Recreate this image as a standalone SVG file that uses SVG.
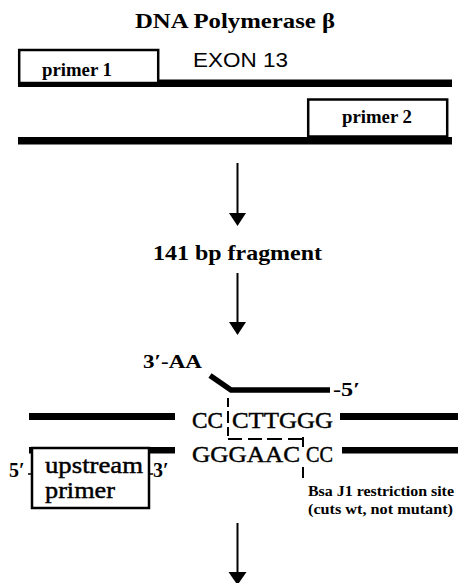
<svg xmlns="http://www.w3.org/2000/svg" width="459" height="583" viewBox="0 0 459 583">
<style>
.serif{font-family:"Liberation Serif","Times New Roman",serif;fill:#000}
.b{font-weight:bold}
.m{stroke:#000;stroke-width:0.45}
.sans{font-family:"Liberation Sans",Arial,sans-serif;fill:#000}
.box{fill:#fff;stroke:#000;stroke-width:2.5}
.dash{stroke:#000;stroke-width:2;fill:none}
</style>
<rect width="459" height="583" fill="#fff"/>
<g id="title"><text class="serif b" x="135" y="28" font-size="21" textLength="200" lengthAdjust="spacingAndGlyphs">DNA Polymerase β</text></g>
<g id="exon"><text class="sans" x="193" y="67" font-size="21" textLength="95" lengthAdjust="spacingAndGlyphs">EXON 13</text></g>
<g id="strand1"><rect x="18" y="79.5" width="434" height="7.5" fill="#000"/></g>
<g id="primer1"><rect class="box" x="19.2" y="50" width="139" height="33"/><text class="serif b" x="42" y="76" font-size="19" textLength="70" lengthAdjust="spacingAndGlyphs">primer 1</text></g>
<g id="strand2"><rect x="18" y="137" width="434" height="7.5" fill="#000"/></g>
<g id="primer2"><rect class="box" x="308.2" y="99.5" width="139" height="37"/><text class="serif b" x="342" y="123" font-size="19" textLength="70" lengthAdjust="spacingAndGlyphs">primer 2</text></g>
<g id="connectors">
<line x1="237.5" y1="163" x2="237.5" y2="215" stroke="#000" stroke-width="2"/>
<polygon points="229,213 246,213 237.5,226" fill="#000"/>
<line x1="237.5" y1="273" x2="237.5" y2="324" stroke="#000" stroke-width="2"/>
<polygon points="229,322 246,322 237.5,335" fill="#000"/>
<line x1="237.5" y1="523" x2="237.5" y2="574" stroke="#000" stroke-width="2"/>
<polygon points="228.5,572 246.5,572 237.5,585" fill="#000"/>
</g>
<g id="fragment"><text class="serif b" x="153" y="260" font-size="21" textLength="169" lengthAdjust="spacingAndGlyphs">141 bp fragment</text></g>
<g id="mutant-primer">
<text class="serif b" x="143" y="368" font-size="19" textLength="59" lengthAdjust="spacingAndGlyphs">3′-AA</text>
<polyline points="210,375.5 231,390 330,390" fill="none" stroke="#000" stroke-width="5.5"/>
<text class="serif b" x="333" y="396" font-size="19" textLength="27" lengthAdjust="spacingAndGlyphs">-5′</text>
</g>
<g id="top-strand">
<rect x="29" y="413" width="146" height="7" fill="#000"/>
<rect x="340" y="413" width="118" height="7" fill="#000"/>
<text class="serif m" x="192" y="428" font-size="24" textLength="31" lengthAdjust="spacingAndGlyphs">CC</text>
<text class="serif m" x="232" y="428" font-size="24" textLength="101" lengthAdjust="spacingAndGlyphs">CTTGGG</text>
</g>
<g id="bottom-strand">
<rect x="29" y="447" width="146" height="6.5" fill="#000"/>
<rect x="342" y="447" width="116" height="6.5" fill="#000"/>
<text class="serif m" x="192" y="462" font-size="24" textLength="108" lengthAdjust="spacingAndGlyphs">GGGAAC</text>
<text class="serif m" x="306" y="462" font-size="24" textLength="27" lengthAdjust="spacingAndGlyphs">CC</text>
</g>
<g id="restriction-site">
<path class="dash" d="M228,398V407M228,411V423M228,427V436M228,439H242M248,439H262M267,439H282M288,439H303M303,437V447M303,467V478"/>
<text class="serif b" x="308" y="496" font-size="14" textLength="146" lengthAdjust="spacingAndGlyphs">Bsa J1 restriction site</text>
<text class="serif b" x="308" y="514" font-size="14" textLength="145" lengthAdjust="spacingAndGlyphs">(cuts wt, not mutant)</text>
</g>
<g id="upstream-primer">
<rect class="box" x="32" y="448" width="117" height="60"/>
<text class="serif m" x="45" y="473" font-size="23" textLength="98" lengthAdjust="spacingAndGlyphs">upstream</text>
<text class="serif m" x="45" y="498" font-size="23" textLength="70" lengthAdjust="spacingAndGlyphs">primer</text>
<text class="serif b" x="9" y="477" font-size="20">5′</text>
<line x1="28" y1="474" x2="32" y2="474" stroke="#000" stroke-width="1.5"/>
<text class="serif b" x="153" y="477" font-size="20">3′</text>
<line x1="149" y1="474" x2="153" y2="474" stroke="#000" stroke-width="1.5"/>
</g>
</svg>
